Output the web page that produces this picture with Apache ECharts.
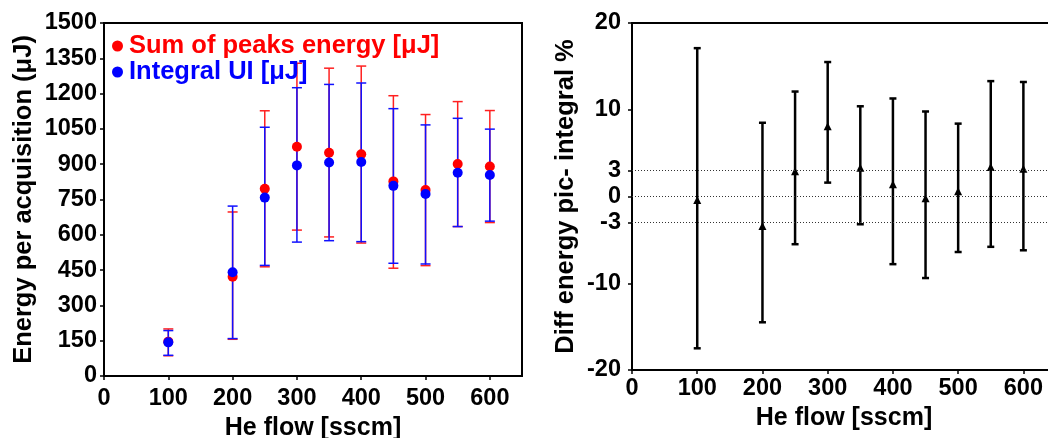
<!DOCTYPE html>
<html>
<head>
<meta charset="utf-8">
<script src="https://cdn.jsdelivr.net/npm/echarts@6/dist/echarts.min.js"></script>
<style>html,body{margin:0;padding:0;background:#fff}#c{width:1048px;height:438px}</style>
</head>
<body>
<div id="c"></div>
<script>
// ---- data ----
var flow = [100, 200, 250, 300, 350, 400, 450, 500, 550, 600];
var sumPeaks = [146, 422, 796, 974, 949, 942, 827, 790, 901, 890];
var sumLow = [86, 156, 464, 620, 591, 565, 458, 469, 635, 652];
var sumHigh = [200, 697, 1127, 1329, 1308, 1317, 1191, 1111, 1166, 1128];
var integral = [143, 441, 758, 895, 907, 909, 808, 773, 864, 854];
var intLow = [88, 159, 470, 569, 575, 571, 479, 476, 635, 658];
var intHigh = [193, 722, 1057, 1225, 1239, 1245, 1136, 1067, 1095, 1049];
var diff = [-0.4, -3.4, 2.9, 8.1, 3.3, 1.4, -0.2, 0.6, 3.4, 3.2];
var diffLow = [-17.5, -14.5, -5.5, 1.6, -3.2, -7.8, -9.4, -6.4, -5.8, -6.2];
var diffHigh = [17.1, 8.5, 12.1, 15.5, 10.4, 11.3, 9.8, 8.4, 13.3, 13.2];
var leftYTicks = [0, 150, 300, 450, 600, 750, 900, 1050, 1200, 1350, 1500];
var xTicks = [0, 100, 200, 300, 400, 500, 600];
var rightYTicks = [-20, -10, -3, 0, 3, 10, 20];
var refLines = [3, 0, -3];

var FONT = 'Liberation Sans';
function pts(xs, ys) { return xs.map(function (x, i) { return [x, ys[i]]; }); }
function errData(xs, lo, hi) { return xs.map(function (x, i) { return [x, lo[i], hi[i]]; }); }
function errRender(color, lw, cap) {
  return function (params, api) {
    var x = api.value(0);
    var lo = api.coord([x, api.value(1)]);
    var hi = api.coord([x, api.value(2)]);
    var style = { stroke: color, lineWidth: lw, fill: null };
    return {
      type: 'group',
      children: [
        { type: 'line', shape: { x1: lo[0], y1: lo[1], x2: hi[0], y2: hi[1] }, style: style },
        { type: 'line', shape: { x1: hi[0] - cap, y1: hi[1], x2: hi[0] + cap, y2: hi[1] }, style: style },
        { type: 'line', shape: { x1: lo[0] - cap, y1: lo[1], x2: lo[0] + cap, y2: lo[1] }, style: style }
      ]
    };
  };
}
var tickLbl = { fontFamily: FONT, fontWeight: 'bold', fontSize: 23.5, color: '#000' };
var titleLbl = { fontFamily: FONT, fontWeight: 'bold', fontSize: 25.5, color: '#000' };
var xTitleLbl = { fontFamily: FONT, fontWeight: 'bold', fontSize: 25, color: '#000' };
function plain(v) { return String(v); }
function xAxisCfg(idx, labelMargin, nameGap) {
  return {
    type: 'value', gridIndex: idx, min: 0, max: 650, interval: 100,
    name: 'He flow [sscm]', nameLocation: 'middle', nameGap: nameGap,
    nameTextStyle: xTitleLbl,
    axisLine: { show: true, onZero: false, lineStyle: { color: '#000', width: 2 } },
    axisTick: { show: true, length: 4, customValues: xTicks, lineStyle: { color: '#000', width: 1.5 } },
    axisLabel: Object.assign({ margin: labelMargin, customValues: xTicks, formatter: plain }, tickLbl),
    splitLine: { show: false }
  };
}

var chart = echarts.init(document.getElementById('c'));
chart.setOption({
  animation: false,
  backgroundColor: '#fff',
  grid: [
    { left: 104, right: 526, top: 23, bottom: 62, show: true, borderColor: '#000', borderWidth: 2, containLabel: false, outerBoundsMode: 'none' },
    { left: 632, right: -8, top: 23, bottom: 68, show: true, borderColor: '#000', borderWidth: 2, containLabel: false, outerBoundsMode: 'none' }
  ],
  legend: {
    left: 107, top: 28, orient: 'vertical', itemGap: 0, itemWidth: 11, itemHeight: 11,
    icon: 'circle',
    data: ['Sum of peaks energy [μJ]', 'Integral UI [μJ]'],
    textStyle: { fontFamily: FONT, fontWeight: 'bold', fontSize: 25.5, color: 'inherit', padding: [0, 0, 0, 1] }
  },
  xAxis: [xAxisCfg(0, 11, 38), xAxisCfg(1, 7, 30)],
  yAxis: [
    {
      type: 'value', gridIndex: 0, min: 0, max: 1500, interval: 150,
      name: 'Energy per acquisition (μJ)', nameLocation: 'middle', nameGap: 67,
      nameTextStyle: titleLbl,
      axisLine: { show: true, onZero: false, lineStyle: { color: '#000', width: 2 } },
      axisTick: { show: true, length: 4, lineStyle: { color: '#000', width: 1.5 } },
      axisLabel: Object.assign({ margin: 7, formatter: plain }, tickLbl),
      splitLine: { show: false }
    },
    {
      type: 'value', gridIndex: 1, min: -20, max: 20,
      name: 'Diff energy pic- integral %', nameLocation: 'middle', nameGap: 53,
      nameTextStyle: titleLbl,
      axisLine: { show: true, onZero: false, lineStyle: { color: '#000', width: 2 } },
      axisTick: { show: true, length: 4, customValues: rightYTicks, lineStyle: { color: '#000', width: 1.5 } },
      axisLabel: Object.assign({ margin: 11, customValues: rightYTicks, formatter: plain }, tickLbl),
      splitLine: { show: false }
    }
  ],
  series: [
    {
      type: 'custom', xAxisIndex: 0, yAxisIndex: 0, z: 2,
      renderItem: errRender('#ff2020', 1.5, 5),
      data: errData(flow, sumLow, sumHigh), silent: true
    },
    {
      type: 'custom', xAxisIndex: 0, yAxisIndex: 0, z: 3,
      renderItem: errRender('#1010ff', 1.5, 5),
      data: errData(flow, intLow, intHigh), silent: true
    },
    {
      name: 'Sum of peaks energy [μJ]', type: 'scatter', xAxisIndex: 0, yAxisIndex: 0, z: 4,
      symbol: 'circle', symbolSize: 10, itemStyle: { color: '#ff0000', opacity: 1 },
      data: pts(flow, sumPeaks)
    },
    {
      name: 'Integral UI [μJ]', type: 'scatter', xAxisIndex: 0, yAxisIndex: 0, z: 5,
      symbol: 'circle', symbolSize: 10, itemStyle: { color: '#0000ff', opacity: 1 },
      data: pts(flow, integral)
    },
    {
      type: 'custom', xAxisIndex: 1, yAxisIndex: 1, z: 3,
      renderItem: errRender('#000', 2.5, 3.5),
      data: errData(flow, diffLow, diffHigh), silent: true
    },
    {
      type: 'scatter', xAxisIndex: 1, yAxisIndex: 1, z: 4,
      symbol: 'triangle', symbolSize: [8, 8], itemStyle: { color: '#000', opacity: 1 },
      data: pts(flow, diff),
      markLine: {
        silent: true, symbol: 'none', animation: false,
        label: { show: false },
        lineStyle: { color: '#333', type: [1, 2], width: 1 },
        data: refLines.map(function (v) { return { yAxis: v }; })
      }
    }
  ]
});
</script>
</body>
</html>
